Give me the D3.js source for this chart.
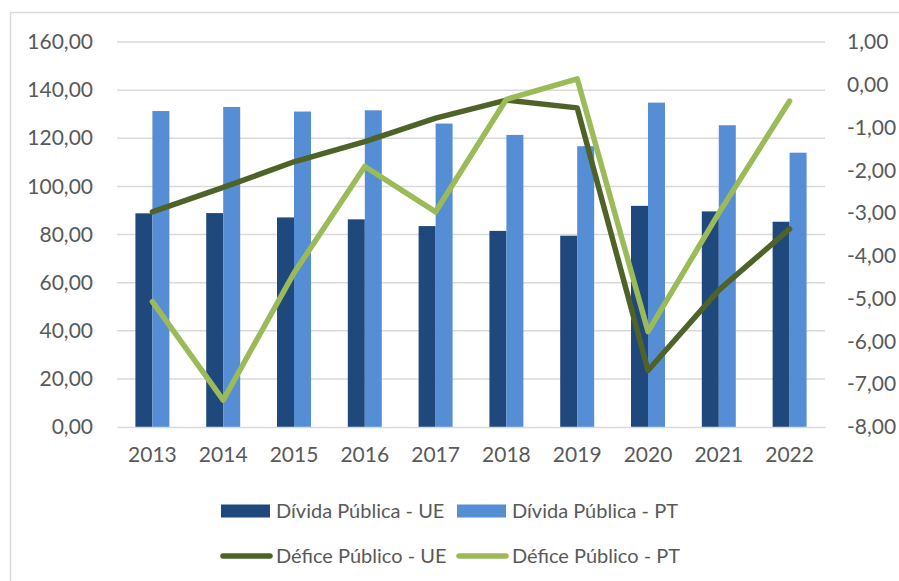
<!DOCTYPE html>
<html>
<head>
<meta charset="utf-8">
<script src="https://cdn.jsdelivr.net/npm/d3@7"></script>
<style>
  body { margin: 0; background: #fff; }
  text { font-family: Lato, "Liberation Sans", sans-serif; fill: #595959; }
</style>
</head>
<body>
<div id="chart"></div>
<script>
var svgWidth = 899;
var svgHeight = 581;

var margin = { top: 42, right: 74, bottom: 154, left: 117 };
var width = svgWidth - margin.left - margin.right;
var height = svgHeight - margin.top - margin.bottom;

// chart data
var years = ["2013", "2014", "2015", "2016", "2017", "2018", "2019", "2020", "2021", "2022"];
var dividaUE = [88.8, 88.9, 87.1, 86.3, 83.5, 81.5, 79.5, 91.9, 89.6, 85.3];
var dividaPT = [131.3, 133.0, 131.1, 131.6, 126.1, 121.4, 116.7, 134.8, 125.4, 114.0];
var deficeUE = [-2.97, -2.4, -1.8, -1.33, -0.78, -0.36, -0.54, -6.68, -4.8, -3.37];
var deficePT = [-5.07, -7.37, -4.4, -1.91, -2.97, -0.34, 0.14, -5.77, -3.0, -0.38];
var leftTicks = [0, 20, 40, 60, 80, 100, 120, 140, 160];
var rightTicks = [1, 0, -1, -2, -3, -4, -5, -6, -7, -8];

// "1,00" style labels with a plain hyphen for negatives
var fmt = function(v) { return d3.format(".2f")(v).replace("\u2212", "-").replace(".", ","); };

var svg = d3.select("#chart")
  .append("svg")
  .attr("width", svgWidth)
  .attr("height", svgHeight);

// chart frame
svg.append("rect")
  .attr("x", 10.5)
  .attr("y", 12.5)
  .attr("width", 940)
  .attr("height", 640)
  .attr("fill", "none")
  .attr("stroke", "#d9d9d9")
  .attr("stroke-width", 1.5);

var chartGroup = svg.append("g")
  .attr("transform", `translate(${margin.left}, ${margin.top})`);

// scales
var x0 = d3.scaleBand()
  .domain(years)
  .range([0, width])
  .paddingInner(0.52)
  .paddingOuter(0.26);

var x1 = d3.scaleBand()
  .domain(["UE", "PT"])
  .range([0, x0.bandwidth()]);

var yLeft = d3.scaleLinear().domain([0, 160]).range([height, 0]);
var yRight = d3.scaleLinear().domain([-8, 1]).range([height, 0]);

// gridlines
chartGroup.append("g")
  .selectAll("line")
  .data(leftTicks.filter(d => d > 0))
  .enter()
  .append("line")
  .attr("x1", 0)
  .attr("x2", width)
  .attr("y1", d => yLeft(d))
  .attr("y2", d => yLeft(d))
  .attr("stroke", "#d9d9d9")
  .attr("stroke-width", 1.5);

// left axis labels
var leftAxis = d3.axisLeft(yLeft).tickValues(leftTicks).tickFormat(fmt).tickSize(0).tickPadding(24);
chartGroup.append("g")
  .call(leftAxis)
  .call(g => g.select(".domain").remove())
  .selectAll("text")
  .style("font-size", "21px")
  .attr("fill", "#595959");

// right axis labels
var rightAxis = d3.axisRight(yRight).tickValues(rightTicks).tickFormat(fmt).tickSize(0).tickPadding(22);
chartGroup.append("g")
  .attr("transform", `translate(${width}, 0)`)
  .call(rightAxis)
  .call(g => g.select(".domain").remove())
  .selectAll("text")
  .style("font-size", "21px")
  .attr("fill", "#595959");

// bars
var barData = years.map((y, i) => ({ year: y, values: [
  { key: "UE", value: dividaUE[i] },
  { key: "PT", value: dividaPT[i] }
] }));
var barColor = { UE: "#1f497d", PT: "#558ed5" };

chartGroup.append("g")
  .selectAll("g")
  .data(barData)
  .enter()
  .append("g")
  .attr("transform", d => `translate(${x0(d.year)}, 0)`)
  .selectAll("rect")
  .data(d => d.values)
  .enter()
  .append("rect")
  .attr("x", d => x1(d.key))
  .attr("width", x1.bandwidth())
  .attr("y", d => yLeft(d.value))
  .attr("height", d => height - yLeft(d.value))
  .attr("fill", d => barColor[d.key]);

// bottom axis
var bottomAxis = d3.axisBottom(x0).tickSize(0).tickPadding(20);
var xAxis = chartGroup.append("g")
  .attr("transform", `translate(0, ${height})`)
  .call(bottomAxis);
xAxis.select(".domain").attr("stroke", "#d9d9d9").attr("stroke-width", 1.5);
xAxis.selectAll("text").style("font-size", "21px").attr("fill", "#595959");

// lines
var line = d3.line()
  .x((d, i) => x0(years[i]) + x0.bandwidth() / 2)
  .y(d => yRight(d));

chartGroup.append("path")
  .datum(deficeUE)
  .attr("d", line)
  .attr("fill", "none")
  .attr("stroke", "#4f6228")
  .attr("stroke-width", 5.5)
  .attr("stroke-linecap", "round")
  .attr("stroke-linejoin", "round");

chartGroup.append("path")
  .datum(deficePT)
  .attr("d", line)
  .attr("fill", "none")
  .attr("stroke", "#9bbb59")
  .attr("stroke-width", 5.5)
  .attr("stroke-linecap", "round")
  .attr("stroke-linejoin", "round");

// legend
var legendItems = [
  { label: "Dívida Pública - UE", type: "bar", color: "#1f497d", x: 221, y: 511 },
  { label: "Dívida Pública - PT", type: "bar", color: "#558ed5", x: 457, y: 511 },
  { label: "Défice Público - UE", type: "line", color: "#4f6228", x: 221, y: 556 },
  { label: "Défice Público - PT", type: "line", color: "#9bbb59", x: 457, y: 556 }
];

var legend = svg.append("g");
legendItems.forEach(function(item) {
  if (item.type === "bar") {
    legend.append("rect")
      .attr("x", item.x)
      .attr("y", item.y - 6.5)
      .attr("width", 49)
      .attr("height", 13)
      .attr("fill", item.color);
  } else {
    legend.append("line")
      .attr("x1", item.x + 2)
      .attr("x2", item.x + 49)
      .attr("y1", item.y)
      .attr("y2", item.y)
      .attr("stroke", item.color)
      .attr("stroke-width", 5.5)
      .attr("stroke-linecap", "round");
  }
  legend.append("text")
    .attr("x", item.x + 55)
    .attr("y", item.y)
    .attr("dy", "0.35em")
    .style("font-size", "20px")
    .text(item.label);
});
</script>
</body>
</html>
